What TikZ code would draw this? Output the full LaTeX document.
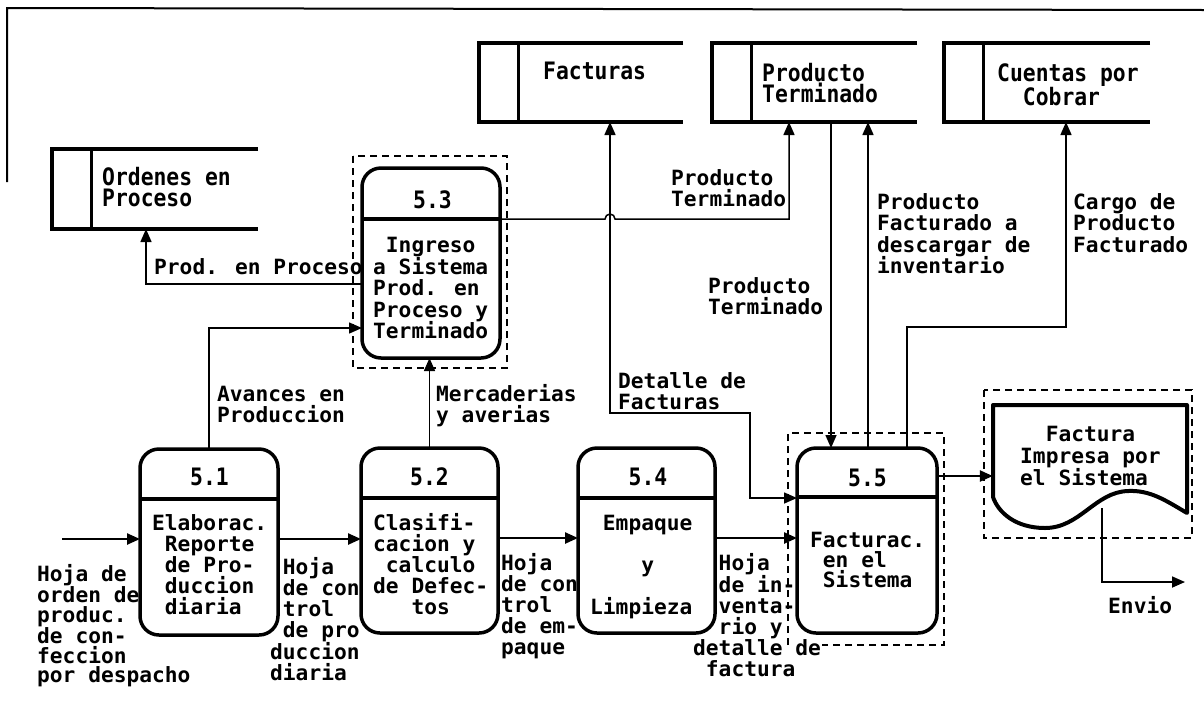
\documentclass[tikz,border=0pt]{standalone}
\usepackage{fontspec}
\usetikzlibrary{arrows.meta}
\newfontfamily\lblfont{DejaVu Sans Mono Bold}[FakeStretch=1.01]
\newfontfamily\bigfont{DejaVu Sans Mono Bold}[FakeStretch=0.89]
\newcommand\lblf[1][21]{\lblfont\fontsize{21}{#1}\selectfont}
\newcommand\bigf{\bigfont\fontsize{24}{21}\selectfont}
\newcommand\ind{\hphantom{0}}
\begin{document}
\begin{tikzpicture}[x=1pt,y=-1pt,
  proc/.style={draw, line width=3.5pt, rounded corners=19pt, inner sep=0, outer sep=0},
  divider/.style={line width=3.5pt},
  lbl/.style={font=\lblf, align=left, inner sep=0, anchor=north west},
  num/.style={font=\bigf, inner sep=0},
  store/.style={inner sep=0, outer sep=0, minimum height=79},
  storeline/.style={line width=4pt},
  divline/.style={line width=3pt},
  tip/.tip={Triangle[length=13pt,width=11pt]},
  flow/.style={line width=1.5pt, -tip},
  flowboth/.style={line width=1.5pt, tip-tip},
  flowthick/.style={line width=2.4pt, -tip},
  dashbox/.style={line width=1.5pt, dash pattern=on 7pt off 5pt},
  docline/.style={line width=4pt, line join=round}]
\useasboundingbox (0,0) rectangle (1204,705);

% frame
\draw[line width=2pt] (7,182) -- (7,8) -- (1204,10);

% helper coordinates
\foreach \v in {122,219,284,327,328,413,476,498,508,538,539,582}{\coordinate (y\v) at (0,\v);}
\foreach \u in {146,605,610,750,789,831,868,907,1066,1102}{\coordinate (x\u) at (\u,0);}

% dashed boxes
\draw[dashbox] (353,156) rectangle (507,368);
\draw[dashbox] (788,645) -- (788,433) -- (944,433) -- (944,645) -- (822,645);
\draw[dashbox] (984,390) rectangle (1192,538);

% data stores
\node[store, minimum width=206, minimum height=80] (ord) at (155,189) {};
\node[store, minimum width=204] (fact) at (581,82.5) {};
\node[store, minimum width=205] (pt) at (814.5,82.5) {};
\node[store, minimum width=206] (cxc) at (1047,82.5) {};
\foreach \s/\h in {ord/80,fact/79,pt/79,cxc/79}{
  \draw[storeline] (\s.north east) -- (\s.north west) -- (\s.south west) -- (\s.south east);
  \draw[divline] (\s.north west) ++(39,0) -- ++(0,\h);
}
\node[lbl, font=\bigf] (tord) at (102,167) {Ordenes en\\Proceso};
\node[lbl, font=\bigf] (tfact) at (543,62) {Facturas};
\node[lbl, font=\bigf] (tpt) at (762,63) {Producto\\Terminado};
\node[lbl, font=\bigf] (tcxc) at (997,63) {Cuentas por\\\ind\ind Cobrar};

% processes
\node[proc, minimum width=138, minimum height=186] (p51) at (209,542) {};
\node[proc, minimum width=137, minimum height=185] (p52) at (429.5,540.5) {};
\node[proc, minimum width=137, minimum height=185] (p54) at (646.5,540.5) {};
\node[proc, minimum width=140, minimum height=185] (p55) at (867,540.5) {};
\node[proc, minimum width=138, minimum height=190] (p53) at (431,263) {};
\draw[divider] (140,499) -- (278,499);
\draw[divider] (361,498) -- (498,498);
\draw[divider] (578,498) -- (715,498);
\draw[divider] (797,497) -- (937,497);
\draw[divider] (362,219) -- (500,219);

\node[num] (n51) at (209.5,477) {5.1};
\node[num] (n52) at (429.5,477) {5.2};
\node[num] (n54) at (648,477) {5.4};
\node[num] (n55) at (867.5,477.5) {5.5};
\node[num] (n53) at (432.5,199.5) {5.3};

\node[lbl] (t51) at (152,514) {Elaborac.\\\ind Reporte\\\ind de Pro-\\\ind duccion\\\ind diaria};
\node[lbl] (t52) at (373,513) {Clasifi-\\cacion y\\\ind calculo\\de Defec-\\\ind\ind\ind tos};
\node[lbl] (t54) at (590,515) {\ind Empaque\\\mbox{}\\\ind\ind\ind\ind y\\\mbox{}\\Limpieza};
\node[lbl, font={\lblf[20]}] (t55) at (810,532) {Facturac.\\\ind en el\\\ind Sistema};
\node[lbl, font={\lblf[21.5]}] (t53) at (373,237) {\ind Ingreso\\a Sistema\\Prod. en\\Proceso y\\Terminado};

% document
\node[inner sep=0, minimum width=194, minimum height=108] (doc) at (1090,459) {};
\draw[docline] (993,405) -- (1187,405) -- (1187,513)
  .. controls (1165,500) and (1150,490) .. (1128,491)
  .. controls (1095,492) and (1080,528) .. (1045,528)
  .. controls (1015,528) and (998,512) .. (993,497) -- cycle;
\node[lbl, font={\lblf[22]}] (tdoc) at (1020,426) {\ind\ind Factura\\Impresa por\\el Sistema};

% connectors
\coordinate (in51) at (62,539);
\coordinate (envio) at (1185,582);
\draw[flowthick] (in51) -- (in51 -| p51.west);
\draw[flowthick] (p51.east |- y539) -- (p52.west |- y539);
\draw[flowthick] (p52.east |- y538) -- (p54.west |- y538);
\draw[flowthick] (p54.east |- y538) -- (p55.west |- y538);
\draw[flow] (p51.north) |- (p53.west |- y328);
\draw[flow] (p52.north) -- (p52.north |- p53.south);
\draw[flow] (p53.west |- y284) -| (x146 |- ord.south);
\draw[flow] (p53.east |- y219) -- (x605 |- y219) arc[start angle=180, end angle=360, radius=5] -- (x789 |- y219) -- (x789 |- pt.south);
\draw[flowboth] (x610 |- fact.south) -- (x610 |- y413) -- (x750 |- y413) -- (x750 |- y498) -- (p55.west |- y498);
\draw[flow] (x831 |- pt.south) -- (x831 |- p55.north);
\draw[flow] (x868 |- p55.north) -- (x868 |- pt.south);
\draw[flow] (x907 |- p55.north) -- (x907 |- y327) -- (x1066 |- y327) -- (x1066 |- cxc.south);
\draw[flowthick] (p55.east |- y476) -- (doc.west |- y476);
\draw[flow, line width=1.8pt] (x1102 |- y508) |- (envio);

% labels
\node[lbl] (lprodproc) at (154,258) {Prod. en Proceso};
\node[lbl] (lavances) at (217,386) {Avances en\\Produccion};
\node[lbl] (lmerc) at (436,384) {Mercaderias\\y averias};
\node[lbl, font={\lblf[19.6]}] (lhojaord) at (37,564) {Hoja de\\orden de\\produc.\\de con-\\feccion\\por despacho};
\node[lbl] (lhoja1) at (270,557) {\ind Hoja\\\ind de con\\\ind trol\\\ind de pro\\duccion\\diaria};
\node[lbl] (lhoja2) at (501,553) {Hoja\\de con\\trol\\de em-\\paque};
\node[lbl] (lhoja3) at (693,553) {\ind\ind Hoja\\\ind\ind de in-\\\ind\ind venta-\\\ind\ind rio y\\detalle de\\\ind factura};
\node[lbl] (ldetalle) at (618,372) {Detalle de\\Facturas};
\node[lbl] (lptup) at (671,169) {Producto\\Terminado};
\node[lbl] (lptlow) at (708,277) {Producto\\Terminado};
\node[lbl, font={\lblf[21.5]}] (lpfact) at (877,193) {Producto\\Facturado a\\descargar de\\inventario};
\node[lbl, font={\lblf[21.5]}] (lcargo) at (1073,193) {Cargo de\\Producto\\Facturado};
\node[lbl] (lenvio) at (1108,596) {Envio};
\end{tikzpicture}
\end{document}
